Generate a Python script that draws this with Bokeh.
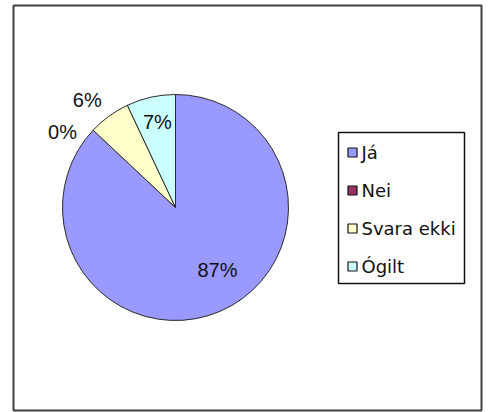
import math
from bokeh.plotting import figure
from bokeh.models import Range1d, ColumnDataSource
from bokeh.core.properties import value
from bokeh.embed import file_html
from bokeh.resources import INLINE

# ---- data ----
categories = ["Já", "Nei", "Svara ekki", "Ógilt"]
percents = [87, 0, 6, 7]
colors = ["#9999FF", "#993366", "#FFFFCC", "#CCFFFF"]

# ---- style / layout (page pixels) ----
W, H = 489, 412
CX, CY = 175, 207          # pie centre (page px)
R = 113
label_r = [0.67, 1.20, 1.23, 0.77]      # label distance as fraction of radius
label_nudge = [-10.3, -9.6, -3.4, 0.6]  # degrees

def py(y):
    return H - y

p = figure(width=W, height=H, output_backend="svg", toolbar_location=None,
           x_range=Range1d(0, W), y_range=Range1d(0, H),
           min_border=0, match_aspect=False)
p.axis.visible = False
p.grid.visible = False
p.outline_line_color = None
p.background_fill_color = "white"
p.border_fill_color = "white"

# outer chart box
p.quad(left=13, right=481, top=py(5), bottom=py(410), fill_color=None,
       line_color="#404040", line_width=2)

# pie wedges (Excel: start at 12 o'clock, clockwise)
total = float(sum(percents))
starts, ends, mids = [], [], []
cum = 0.0
for v in percents:
    f0 = cum / total
    cum += v
    f1 = cum / total
    starts.append(f0)
    ends.append(f1)
    mids.append((f0 + f1) / 2)

wedge = dict(start=[], end=[], color=[])
for i, v in enumerate(percents):
    if v <= 0:
        continue
    wedge["start"].append(math.radians(90 - ends[i] * 360))
    wedge["end"].append(math.radians(90 - starts[i] * 360))
    wedge["color"].append(colors[i])
p.wedge(x=CX, y=py(CY), radius=R, start_angle="start", end_angle="end",
        fill_color="color", line_color="#2a2a2a", line_width=1,
        source=ColumnDataSource(wedge))

# percent labels
lx, ly, lt = [], [], []
for i, v in enumerate(percents):
    th = math.radians(mids[i] * 360 + label_nudge[i])
    rr = R * label_r[i]
    lx.append(CX + rr * math.sin(th))
    ly.append(py(CY) + rr * math.cos(th))
    lt.append(f"{round(100 * v / total)}%")
p.text(x=lx, y=ly, text=lt, text_align="center", text_baseline="middle",
       text_font=value("Liberation Sans"), text_font_size="20px", text_color="#111111")

# legend
p.quad(left=338, right=464, top=py(132), bottom=py(283), fill_color="white",
       line_color="#111111", line_width=1.5)
ey = [py(152 + 38 * i) for i in range(len(categories))]
p.rect(x=[352] * len(categories), y=ey, width=9, height=9, fill_color=colors,
       line_color="#111111", line_width=1.2)
p.text(x=[361] * len(categories), y=ey, text=categories, text_align="left",
       text_baseline="middle", text_font=value("DejaVu Sans"),
       text_font_size="18px", text_color="#111111")

open("out.html", "w").write(file_html(p, INLINE))
